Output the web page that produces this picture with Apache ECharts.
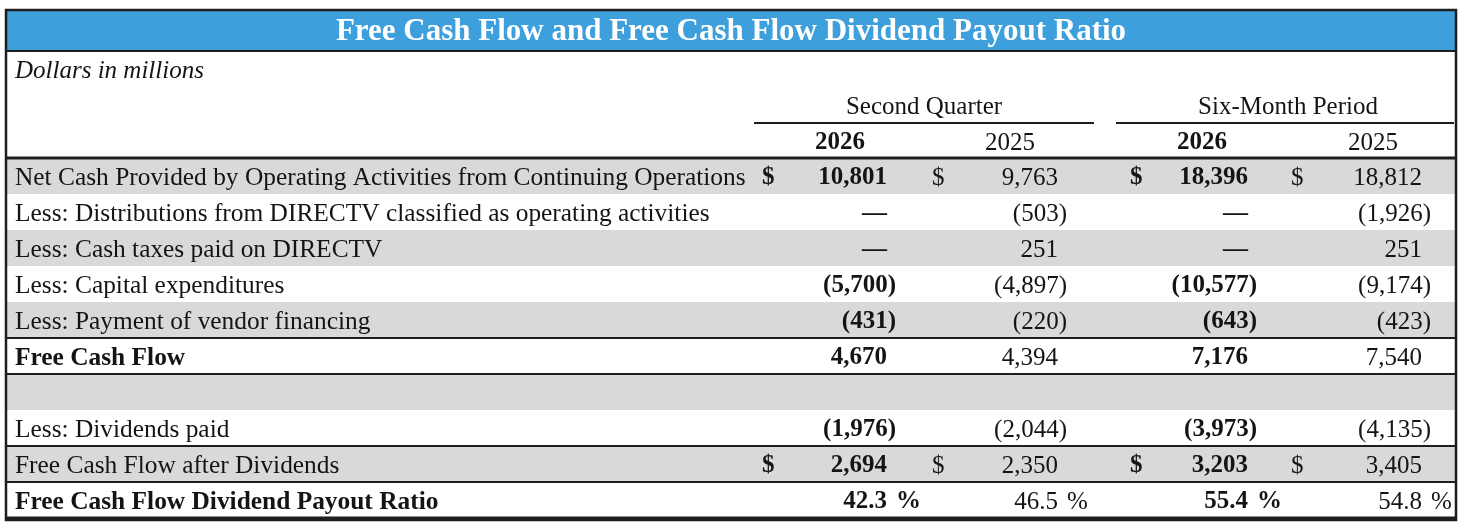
<!DOCTYPE html>
<html>
<head>
<meta charset="utf-8">
<script src="https://cdn.jsdelivr.net/npm/echarts@6/dist/echarts.min.js"></script>
<style>
html,body{margin:0;padding:0;background:#fff;}
#chart{width:1463px;height:528px;}
</style>
</head>
<body>
<div id="chart"></div>
<script>
// ---------- DATA ----------
const titleText = 'Free Cash Flow and Free Cash Flow Dividend Payout Ratio';
const unitsText = 'Dollars in millions';
const periodLabels = ['Second Quarter', 'Six-Month Period'];
const yearLabels = ['2026', '2025', '2026', '2025'];
const rowLabels = [
  'Net Cash Provided by Operating Activities from Continuing Operations',
  'Less: Distributions from DIRECTV classified as operating activities',
  'Less: Cash taxes paid on DIRECTV',
  'Less: Capital expenditures',
  'Less: Payment of vendor financing',
  'Free Cash Flow',
  '',
  'Less: Dividends paid',
  'Free Cash Flow after Dividends',
  'Free Cash Flow Dividend Payout Ratio'
];
// null = em dash; undefined = blank
const q2026 = [10801, null, null, -5700, -431, 4670, undefined, -1976, 2694, 42.3];
const q2025 = [9763, -503, 251, -4897, -220, 4394, undefined, -2044, 2350, 46.5];
const s2026 = [18396, null, null, -10577, -643, 7176, undefined, -3973, 3203, 55.4];
const s2025 = [18812, -1926, 251, -9174, -423, 7540, undefined, -4135, 3405, 54.8];
const dollarRows = [0, 8];
const percentRows = [9];
const boldLabelRows = [5, 9];
const shadedRows = [0, 2, 4, 6, 8];

// ---------- LAYOUT / STYLE ----------
const FONT = '"Liberation Serif", "Times New Roman", serif';
const FS = 25;
const LABEL_FS = 25.4;
const TXT = '#141414';
const GRID_LEFT = 7, GRID_RIGHT = 8, GRID_TOP = 158, GRID_BOTTOM = 10;
const X_MAX = 1463 - GRID_LEFT - GRID_RIGHT;
const LABEL_X = 8;
const colEdge = [880, 1051, 1241, 1415];   // right edge of digits (axis units)
const colDollar = [755, 925, 1123, 1284];  // left edge of $ sign
const colBold = [true, false, true, false];
const lineAbove = [3, 0, 0, 0, 0, 2, 2, 0, 2, 2];
const columns = [q2026, q2025, s2026, s2025];
const TY = 2; // text vertical nudge

function font(bold, italic, size) {
  return (italic ? 'italic ' : '') + (bold ? 'bold ' : '') + (size || FS) + 'px ' + FONT;
}
function fmtNum(v, pct) {
  if (pct) return v.toFixed(1);
  return Math.abs(v).toLocaleString('en-US');
}

function renderItem(params, api) {
  const r = api.value(0);
  const p0 = api.coord([0, r]);
  const x0 = p0[0], yc = p0[1];
  const x1 = api.coord([X_MAX, r])[0];
  const h = api.size([0, 1])[1];
  const top = yc - h / 2;
  const ch = [];
  if (shadedRows.indexOf(r) >= 0) {
    ch.push({type: 'rect', shape: {x: x0, y: top, width: x1 - x0, height: h}, style: {fill: '#d9d9d9'}, z2: 0});
  }
  if (lineAbove[r]) {
    const lw = lineAbove[r];
    ch.push({type: 'rect', shape: {x: x0, y: top - lw / 2, width: x1 - x0, height: lw}, style: {fill: '#1e1e1e'}, z2: 5});
  }
  if (r === rowLabels.length - 1) {
    ch.push({type: 'rect', shape: {x: x0, y: top + h - 1.5, width: x1 - x0, height: 3}, style: {fill: '#1e1e1e'}, z2: 5});
  }
  const lb = boldLabelRows.indexOf(r) >= 0;
  ch.push({type: 'text', z2: 10, style: {text: rowLabels[r], x: api.coord([LABEL_X, r])[0], y: yc + TY, font: font(lb, false, LABEL_FS), fill: TXT, align: 'left', verticalAlign: 'middle'}});
  const pct = percentRows.indexOf(r) >= 0;
  columns.forEach(function (col, c) {
    const v = col[r];
    if (v === undefined) return;
    const bold = colBold[c];
    const ex = api.coord([colEdge[c], r])[0];
    if (dollarRows.indexOf(r) >= 0) {
      ch.push({type: 'text', z2: 10, style: {text: '$', x: api.coord([colDollar[c], r])[0], y: yc + TY, font: font(bold), fill: TXT, align: 'left', verticalAlign: 'middle'}});
    }
    let text, tx = ex;
    if (v === null) { text = '\u2014'; }
    else if (v < 0) { text = '(' + fmtNum(v, pct) + ')'; tx = ex + 9; }
    else { text = fmtNum(v, pct); }
    ch.push({type: 'text', z2: 10, style: {text: text, x: tx, y: yc + TY, font: font(bold), fill: TXT, align: 'right', verticalAlign: 'middle'}});
    if (pct) {
      ch.push({type: 'text', z2: 10, style: {text: '%', x: ex + 9, y: yc + TY, font: font(bold), fill: TXT, align: 'left', verticalAlign: 'middle'}});
    }
  });
  return {type: 'group', children: ch};
}

const chart = echarts.init(document.getElementById('chart'), null, {renderer: 'canvas'});

// header layout (pixels)
const yearCenters = [840, 1010, 1202, 1373];
const periodCenters = [924, 1288];
const underlines = [[754, 1094], [1116, 1454]];

const graphics = [
  {type: 'rect', shape: {x: 7, y: 11, width: 1448, height: 40}, style: {fill: '#3d9fdb'}, z: 1},
  {type: 'rect', shape: {x: 7, y: 50, width: 1448, height: 2}, style: {fill: '#1e1e1e'}, z: 2},
  {type: 'text', style: {text: titleText, x: 731, y: 32, font: font(true, false, 31), fill: '#ffffff', align: 'center', verticalAlign: 'middle'}, z: 3},
  {type: 'text', style: {text: unitsText, x: 15, y: 71, font: font(false, true), fill: TXT, align: 'left', verticalAlign: 'middle'}, z: 3},
  {type: 'rect', shape: {x: 6, y: 10, width: 1450, height: 510}, style: {fill: 'none', stroke: '#1e1e1e', lineWidth: 2.5}, z: 20}
];
periodLabels.forEach(function (t, i) {
  graphics.push({type: 'text', style: {text: t, x: periodCenters[i], y: 107, font: font(false), fill: TXT, align: 'center', verticalAlign: 'middle'}, z: 3});
  graphics.push({type: 'rect', shape: {x: underlines[i][0], y: 122, width: underlines[i][1] - underlines[i][0], height: 2}, style: {fill: '#1e1e1e'}, z: 3});
});
yearLabels.forEach(function (t, i) {
  graphics.push({type: 'text', style: {text: t, x: yearCenters[i], y: 143, font: font(colBold[i]), fill: TXT, align: 'center', verticalAlign: 'middle'}, z: 3});
});

chart.setOption({
  animation: false,
  backgroundColor: '#ffffff',
  grid: {left: GRID_LEFT, right: GRID_RIGHT, top: GRID_TOP, bottom: GRID_BOTTOM, containLabel: false},
  xAxis: {type: 'value', min: 0, max: X_MAX, show: false},
  yAxis: {type: 'category', data: rowLabels.map(function (_, i) { return String(i); }), inverse: true, show: false},
  graphic: graphics,
  series: [{
    type: 'custom',
    clip: false,
    renderItem: renderItem,
    data: rowLabels.map(function (_, i) { return [i]; }),
    encode: {y: 0}
  }]
});
</script>
</body>
</html>
